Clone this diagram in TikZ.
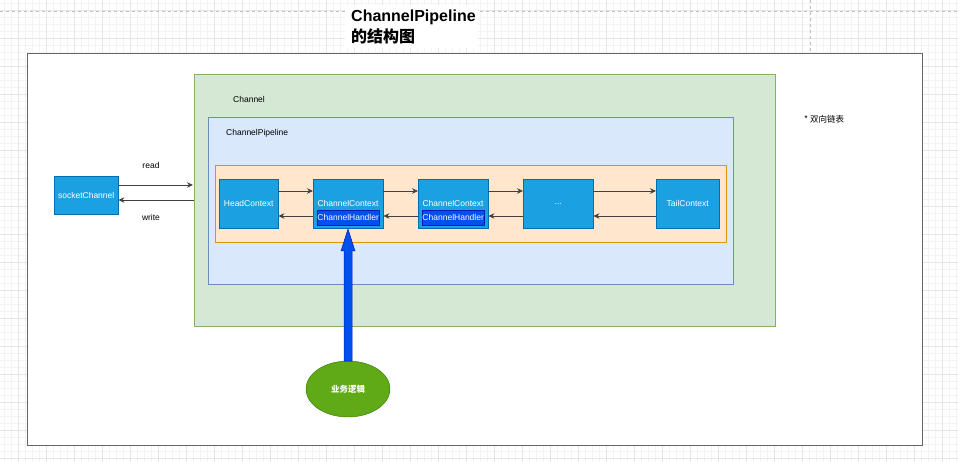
\documentclass[tikz,border=0pt]{standalone}
\usepackage{fontspec}
\setmainfont{Liberation Sans}
\newfontfamily\cjk{Noto Sans CJK SC}
\usetikzlibrary{arrows.meta,shapes.geometric}
\definecolor{gridminor}{HTML}{F3F3F3}
\definecolor{gridmajor}{HTML}{E6E6E6}
\definecolor{greenfill}{HTML}{D5E8D4}
\definecolor{greenline}{HTML}{82B366}
\definecolor{bluefill}{HTML}{DAE8FC}
\definecolor{blueline}{HTML}{6C8EBF}
\definecolor{orangefill}{HTML}{FFE6CC}
\definecolor{orangeline}{HTML}{D79B00}
\definecolor{ctxfill}{HTML}{1BA1E2}
\definecolor{ctxline}{HTML}{006EAF}
\definecolor{hfill}{HTML}{0050EF}
\definecolor{hline}{HTML}{001DBC}
\definecolor{egg}{HTML}{60A917}
\definecolor{eggline}{HTML}{2D7600}
\definecolor{frame}{HTML}{666666}
\tikzset{
  px/.style={x=1pt,y=-1pt},
  ctx/.style={draw=ctxline,fill=ctxfill,text=white,font=\fontsize{8.5}{10}\selectfont,inner sep=0pt,anchor=north west},
  hnd/.style={draw=hline,fill=hfill,text=white,font=\fontsize{8.5}{10}\selectfont,inner sep=0pt,anchor=north west},
  lbl/.style={font=\fontsize{8.5}{10}\selectfont,anchor=west,inner sep=0pt},
  conn/.style={draw=black!75,-{Stealth[length=6pt,width=5.5pt]},line width=0.8pt},
}
\begin{document}
\begin{tikzpicture}[px]
\useasboundingbox (0,0) rectangle (958,462);
\fill[white] (0,0) rectangle (958,462);
% grid
\foreach \i in {0,...,136} {\draw[gridminor,line width=0.4pt] ({7*\i+4},0) -- ({7*\i+4},462);}
\foreach \i in {0,...,66} {\draw[gridminor,line width=0.4pt] (0,{7*\i+3}) -- (958,{7*\i+3});}
\foreach \i in {0,...,34} {\draw[gridmajor,line width=0.5pt] ({28*\i+18},0) -- ({28*\i+18},462);}
\foreach \i in {0,...,16} {\draw[gridmajor,line width=0.5pt] (0,{28*\i+10}) -- (958,{28*\i+10});}
\draw[black!25,dashed,line width=0.5pt] (0,11) -- (958,11);
\draw[black!25,dashed,line width=0.5pt] (810,0) -- (810,53);
% title
\fill[white] (345,5) rectangle (478,48);
\node[anchor=north west,inner sep=0pt,align=left,font=\bfseries\fontsize{16}{20.5}\selectfont] (title) at (351,10) {ChannelPipeline\\{\cjk\bfseries 的结构图}};
% outer frame
\node[draw=frame,fill=white,line width=1pt,minimum width=895pt,minimum height=392pt,anchor=north west,inner sep=0pt] (outer) at (27,53) {};
% containers
\node[draw=greenline,fill=greenfill,line width=0.8pt,minimum width=581pt,minimum height=252pt,anchor=north west,inner sep=0pt] (channel) at (194,74) {};
\node[lbl] (chlbl) at (233,99) {Channel};
\node[draw=blueline,fill=bluefill,line width=0.8pt,minimum width=525pt,minimum height=167pt,anchor=north west,inner sep=0pt] (pipe) at (208,117) {};
\node[lbl] (pplbl) at (226,133) {ChannelPipeline};
\node[draw=orangeline,fill=orangefill,line width=0.8pt,minimum width=511pt,minimum height=77pt,anchor=north west,inner sep=0pt] (list) at (215,165) {};
% contexts
\node[ctx,minimum width=59pt,minimum height=49pt] (head) at (219,179) {HeadContext};
\node[ctx,minimum width=70pt,minimum height=49pt] (c1) at (313,179) {};
\node[ctx,minimum width=70pt,minimum height=49pt] (c2) at (418,179) {};
\node[ctx,minimum width=70pt,minimum height=49pt] (dots) at (523,179) {...};
\node[ctx,minimum width=63pt,minimum height=49pt] (tail) at (656,179) {TailContext};
\node[text=white,font=\fontsize{8.5}{10}\selectfont,inner sep=0pt] (c1t) at (348,203.5) {ChannelContext};
\node[text=white,font=\fontsize{8.5}{10}\selectfont,inner sep=0pt] (c2t) at (453,203.5) {ChannelContext};
\node[hnd,minimum width=62pt,minimum height=15pt] (h1) at (317,210) {ChannelHandler};
\node[hnd,minimum width=62pt,minimum height=15pt] (h2) at (422,210) {ChannelHandler};
% forward / backward links
\draw[conn] (head.east|-0,191) -- (c1.west|-0,191);
\draw[conn] (c1.east|-0,191) -- (c2.west|-0,191);
\draw[conn] (c2.east|-0,191) -- (dots.west|-0,191);
\draw[conn] (dots.east|-0,191) -- (tail.west|-0,191);
\draw[conn] (c1.west|-0,216) -- (head.east|-0,216);
\draw[conn] (c2.west|-0,216) -- (c1.east|-0,216);
\draw[conn] (dots.west|-0,216) -- (c2.east|-0,216);
\draw[conn] (tail.west|-0,216) -- (dots.east|-0,216);
% socket channel
\node[ctx,minimum width=64pt,minimum height=38pt] (sock) at (54,176) {socketChannel};
\coordinate (rin) at (193,185);
\coordinate (wout) at (194,200);
\draw[conn] (sock.east|-0,185) -- (rin);
\draw[conn] (wout) -- (sock.east|-0,200);
\node[font=\fontsize{8.5}{10}\selectfont,inner sep=0pt] (readl) at (151,165) {read};
\node[font=\fontsize{8.5}{10}\selectfont,inner sep=0pt] (writel) at (151,217) {write};
% business logic
\node[ellipse,draw=eggline,fill=egg,text=white,minimum width=84pt,minimum height=56pt,inner sep=0pt,font=\cjk\fontsize{8.5}{10}\selectfont\bfseries] (biz) at (348,389) {业务逻辑};
\draw[draw=hline,fill=hfill,line width=0.5pt]
  (344,361) -- (344,251) -- (341,251) -- (348,229) -- (355,251) -- (352,251) -- (352,361) -- cycle;
\node[font=\cjk\fontsize{8.5}{10}\selectfont,anchor=west,inner sep=0pt] (note) at (804,119) {* 双向链表};
\end{tikzpicture}
\end{document}
